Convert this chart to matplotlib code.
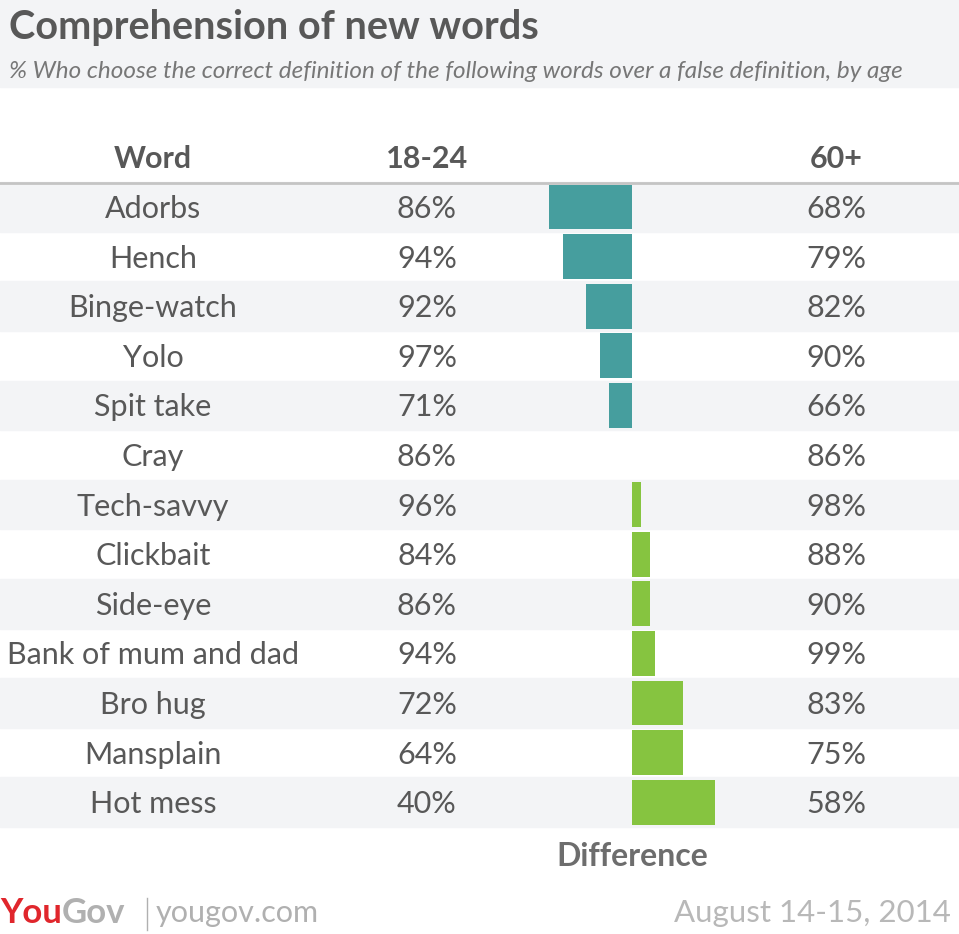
import matplotlib.pyplot as plt
from matplotlib.patches import Rectangle

plt.rcParams['font.family'] = ['Lato', 'DejaVu Sans']

# Data
words = ["Adorbs", "Hench", "Binge-watch", "Yolo", "Spit take", "Cray",
         "Tech-savvy", "Clickbait", "Side-eye", "Bank of mum and dad",
         "Bro hug", "Mansplain", "Hot mess"]
young = [86, 94, 92, 97, 71, 86, 96, 84, 86, 94, 72, 64, 40]
old = [68, 79, 82, 90, 66, 86, 98, 88, 90, 99, 83, 75, 58]
diff = [o - y for o, y in zip(old, young)]

W, H = 959, 934
fig = plt.figure(figsize=(W / 100, H / 100), dpi=100)

# text / background layer in pixel coords
tx = fig.add_axes([0, 0, 1, 1], zorder=1)
tx.set_xlim(0, W)
tx.set_ylim(H, 0)
tx.axis("off")

# bar layer: x in percentage points, y in row units
bx = fig.add_axes([0, 0, 1, 1], zorder=2)
bx.patch.set_alpha(0)
px_per_pt = 4.6
x0, row0, row_h = 632, 207, 49.6
bx.set_xlim(-x0 / px_per_pt, (W - x0) / px_per_pt)
bx.set_ylim((H - row0) / row_h, -row0 / row_h)
bx.axis("off")

grey_bg = "#f3f4f6"
dark = "#585858"
fs = 22

# header band
tx.add_patch(Rectangle((0, 0), W, 87, color=grey_bg, zorder=0))
tx.text(9, 28, "Comprehension of new words", fontsize=28.5, fontweight="bold",
        color=dark, va="center", ha="left")
tx.text(9, 71, "% Who choose the correct definition of the following words over a false definition, by age",
        fontsize=17.5, style="italic", color="#777777", va="center", ha="left")

# column headers
for x, lab in [(153, "Word"), (427, "18-24"), (836, "60+")]:
    tx.text(x, 159, lab, fontsize=fs, fontweight="bold", color=dark, ha="center", va="center")
tx.plot([0, W], [183, 183], color="#c4c4c4", lw=2, zorder=1)

rows = range(len(words))
for i in rows:
    y_px = row0 + i * row_h
    if i % 2 == 0:
        tx.add_patch(Rectangle((0, y_px - row_h / 2), W, row_h, color=grey_bg, zorder=0))
    tx.text(153, y_px + 2, words[i], fontsize=fs, color=dark, ha="center", va="center")
    tx.text(427, y_px + 2, f"{young[i]}%", fontsize=fs, color=dark, ha="center", va="center")
    tx.text(836, y_px + 2, f"{old[i]}%", fontsize=fs, color=dark, ha="center", va="center")

colors = ["#469e9e" if d < 0 else "#86c440" for d in diff]
bx.barh(list(rows), diff, height=0.9, color=colors, zorder=3)

tx.text(632, 857, "Difference", fontsize=23, fontweight="bold", color="#6d6d6d",
        ha="center", va="center")

# footer
t1 = tx.text(0, 913, "You", fontsize=25, fontweight="bold", color="#e0262c",
             ha="left", va="center")
tx.annotate("Gov", xycoords=t1, xy=(1, 0.5), va="center", ha="left",
            fontsize=25, fontweight="bold", color="#b0b0b0")
tx.plot([147, 147], [898, 930], color="#b0b0b0", lw=1)
tx.text(156, 913, "yougov.com", fontsize=22, color="#b0b0b0", ha="left", va="center")
tx.text(951, 913, "August 14-15, 2014", fontsize=22.5, color="#b8b8b8",
        ha="right", va="center")

fig.savefig("out.png", dpi=100)
